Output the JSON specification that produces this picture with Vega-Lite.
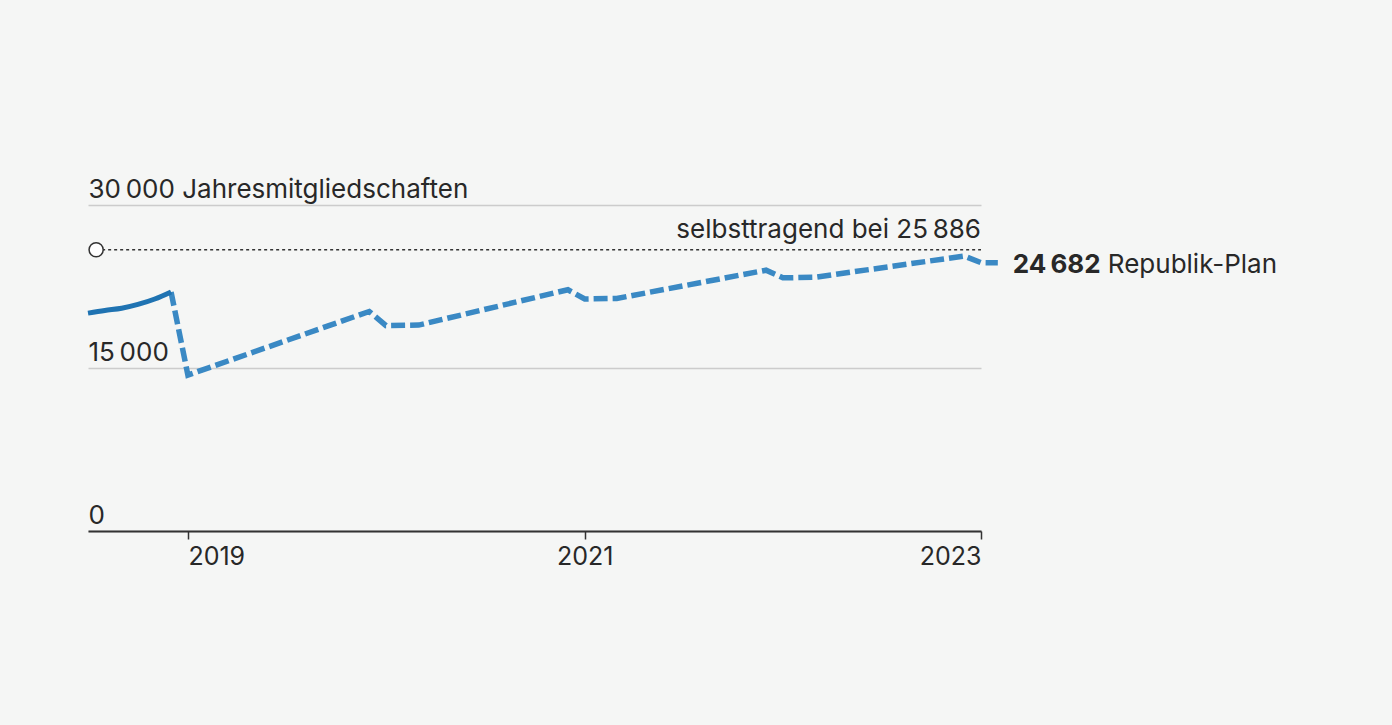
{
  "$schema": "https://vega.github.io/schema/vega-lite/v6.json",
  "width": 893,
  "height": 326,
  "autosize": {"type": "none"},
  "padding": {"left": 88, "top": 205, "right": 411, "bottom": 194},
  "background": "#f5f6f5",
  "config": {
    "view": {"stroke": null},
    "font": "Inter",
    "text": {"font": "Inter", "color": "#282828"}
  },
  "encoding": {
    "x": {
      "field": "date", "type": "temporal",
      "scale": {"type": "utc", "domain": [{"year": 2018, "month": 7, "date": 1, "utc": true}, {"year": 2023, "month": 1, "date": 1, "utc": true}]},
      "axis": {
        "title": null,
        "values": [{"year": 2019, "month": 1, "date": 1, "utc": true}, {"year": 2021, "month": 1, "date": 1, "utc": true}, {"year": 2023, "month": 1, "date": 1, "utc": true}],
        "format": "%Y",
        "grid": false,
        "domainColor": "#333333",
        "domainWidth": 2,
        "tickColor": "#333333",
        "tickWidth": 1.5,
        "tickSize": 8,
        "labelFont": "Inter",
        "labelFontSize": 25,
        "labelColor": "#282828",
        "labelPadding": 5,
        "labelAlign": {"condition": [{"test": "utcyear(datum.value) == 2019", "value": "left"}, {"test": "utcyear(datum.value) == 2023", "value": "right"}], "value": "center"}
      }
    },
    "y": {
      "field": "value", "type": "quantitative",
      "scale": {"domain": [0, 30000], "nice": false},
      "axis": {
        "title": null,
        "values": [0, 15000, 30000],
        "labelExpr": "datum.value == 30000 ? '30\u2009000 Jahresmitgliedschaften' : (datum.value == 15000 ? '15\u2009000' : '0')",
        "domain": false,
        "ticks": false,
        "tickSize": 0,
        "labelPadding": 0,
        "labelLimit": 0,
        "labelAlign": "left",
        "labelBaseline": "alphabetic",
        "labelOffset": -8,
        "labelFont": "Inter",
        "labelFontSize": 26,
        "labelColor": "#282828",
        "gridColor": "#cccccc",
        "gridWidth": 1.5
      }
    }
  },
  "layer": [
    {
      "data": {"values": [
        {"date": "2018-07-16", "value": 25886},
        {"date": "2023-01-01", "value": 25886}
      ]},
      "mark": {"type": "line", "color": "#333333", "strokeWidth": 1.5, "strokeDash": [3, 3]}
    },
    {
      "data": {"values": [
        {"date": "2018-12-01", "value": 22000},
        {"date": "2019-01-01", "value": 14350},
        {"date": "2019-12-01", "value": 20200},
        {"date": "2020-01-01", "value": 18900},
        {"date": "2020-03-01", "value": 18950},
        {"date": "2020-12-01", "value": 22200},
        {"date": "2021-01-01", "value": 21350},
        {"date": "2021-03-01", "value": 21400},
        {"date": "2021-12-01", "value": 24000},
        {"date": "2022-01-01", "value": 23300},
        {"date": "2022-03-01", "value": 23350},
        {"date": "2022-12-01", "value": 25300},
        {"date": "2023-01-01", "value": 24700},
        {"date": "2023-02-01", "value": 24682}
      ]},
      "mark": {"type": "line", "color": "#3a89c4", "strokeWidth": 5.5, "strokeDash": [14, 5]}
    },
    {
      "data": {"values": [
        {"date": "2018-07-01", "value": 20050},
        {"date": "2018-08-01", "value": 20300},
        {"date": "2018-09-01", "value": 20500},
        {"date": "2018-10-01", "value": 20850},
        {"date": "2018-11-01", "value": 21350},
        {"date": "2018-12-01", "value": 22000}
      ]},
      "mark": {"type": "line", "color": "#1f73b2", "strokeWidth": 5, "interpolate": "monotone"}
    },
    {
      "data": {"values": [{"date": "2018-07-16", "value": 25886}]},
      "mark": {"type": "point", "shape": "circle", "size": 200, "filled": true, "fill": "#ffffff", "stroke": "#333333", "strokeWidth": 1.5, "opacity": 1}
    },
    {
      "data": {"values": [{"date": "2023-01-01", "value": 25886, "label": "selbsttragend bei 25\u2009886"}]},
      "mark": {"type": "text", "align": "right", "baseline": "alphabetic", "dy": -12, "fontSize": 26},
      "encoding": {"text": {"field": "label"}}
    },
    {
      "data": {"values": [{"date": "2023-02-01", "value": 24682, "label": "24\u2009682"}]},
      "mark": {"type": "text", "align": "left", "baseline": "middle", "dx": 15, "dy": 2, "fontSize": 26, "fontWeight": "bold"},
      "encoding": {"text": {"field": "label"}}
    },
    {
      "data": {"values": [{"date": "2023-02-01", "value": 24682, "label": "Republik-Plan"}]},
      "mark": {"type": "text", "align": "left", "baseline": "middle", "dx": 110, "dy": 2, "fontSize": 26},
      "encoding": {"text": {"field": "label"}}
    }
  ]
}
